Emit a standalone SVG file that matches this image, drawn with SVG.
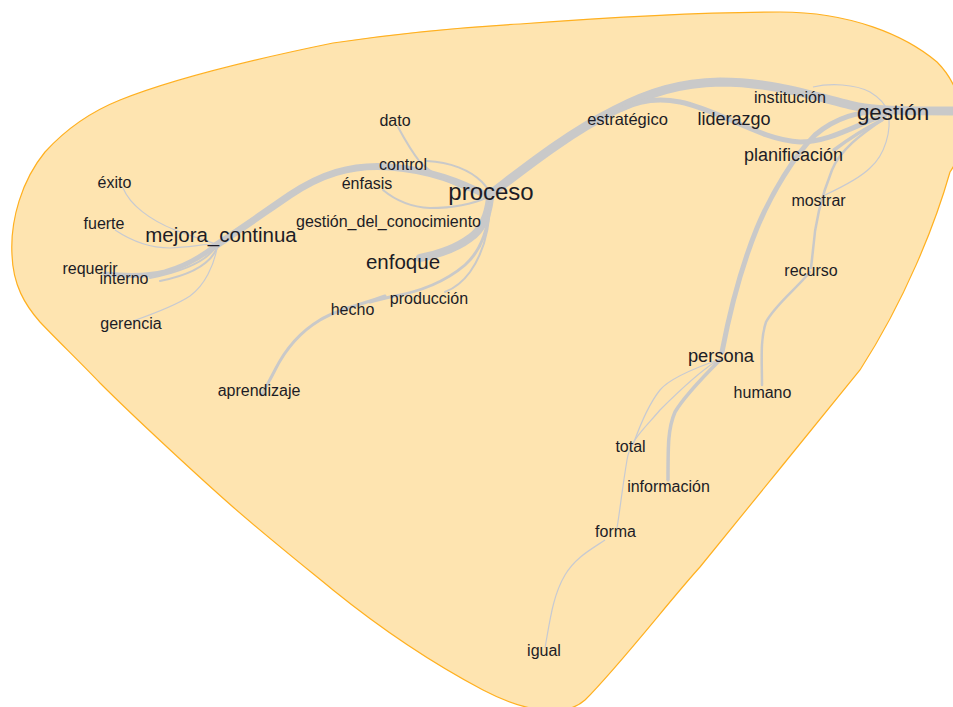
<svg xmlns="http://www.w3.org/2000/svg" width="953" height="707" viewBox="0 0 953 707">
  <style>
    .hull { fill: #fee4b0; stroke: #ffb020; stroke-width: 1.2; }
    .e { fill: none; stroke: #c9c9c9; stroke-linecap: round; stroke-linejoin: round; }
    .t { fill: none; stroke: #c7cad2; stroke-width: 1.2; }
    text { font-family: "Liberation Sans", Arial, sans-serif; fill: #1c1c26; text-anchor: middle; }
    .s { font-size: 16px; }
  </style>
  <rect width="953" height="707" fill="#ffffff"/>

  <!-- community hull -->
  <path class="hull" d="M 12,255
    C 10,220 22,180 45,152
    C 65,130 90,112 120,100
    C 170,80 250,60 333,43
    C 400,33 450,28 520,24
    C 600,18 700,12 780,12
    C 850,12 905,35 937,62
    C 965,90 972,140 950,172
    C 935,225 905,300 860,370
    C 810,432 750,505 700,567
    C 670,600 620,665 585,700
    C 565,718 525,712 483,690
    C 430,662 380,628 333,590
    C 300,563 265,535 233,507
    C 200,478 135,418 100,383
    C 80,362 55,338 40,322
    C 25,305 13,285 12,255 Z"/>

  <!-- connectors -->
  <g id="edges">
    <!-- proceso - gestión and beyond -->
    <path class="e" stroke-width="9" d="M 488,196 C 520,172 565,135 615,110 C 650,92 680,83 720,82 C 770,82 810,95 850,105 C 870,110 890,111 960,111"/>
    <!-- via liderazgo -->
    <path class="e" stroke-width="5" d="M 622,109 C 640,100 660,98 680,102 C 720,110 760,140 800,142 C 830,142 855,125 885,115"/>
    <!-- gestión - persona -->
    <path class="e" stroke-width="5" d="M 885,112 C 860,110 835,118 815,135 C 795,155 772,192 757,228 C 742,265 730,310 722,352"/>
    <!-- gestión - planificación -->
    <path class="e" stroke-width="3.5" d="M 882,120 C 866,128 850,138 834,150"/>
    <!-- gestión - mostrar - recurso -->
    <path class="e" stroke-width="2.5" d="M 885,118 C 860,135 840,150 832,170 C 822,195 815,220 813,250 L 811,268"/>
    <!-- recurso - humano -->
    <path class="e" stroke-width="2.5" d="M 810,272 C 795,290 775,305 766,322 C 760,340 762,360 762,385"/>
    <!-- gestión - mostrar (thin) -->
    <path class="t" d="M 888,112 C 892,130 885,155 870,168 C 860,178 840,188 825,195"/>
    <!-- gestión - institución (thin) -->
    <path class="t" d="M 813,87 C 830,83 855,84 870,92 C 880,98 886,106 888,112"/>
    <!-- persona - información -->
    <path class="e" stroke-width="3.5" d="M 720,360 C 705,375 685,395 675,412 C 668,428 668,445 668,480"/>
    <!-- persona - total -->
    <path class="t" d="M 718,360 C 695,368 670,378 660,390 C 648,405 640,425 633,445"/>
    <!-- persona - forma -->
    <path class="t" d="M 715,362 C 695,375 675,395 660,410 C 645,428 630,440 627,460 C 622,490 620,510 617,528"/>
    <!-- forma - igual -->
    <path class="t" d="M 605,540 C 590,550 575,558 565,575 C 553,595 550,620 545,648"/>

    <!-- proceso - mejora_continua -->
    <path class="e" stroke-width="7" d="M 488,196 C 460,182 430,170 390,167 C 350,164 320,175 290,195 C 265,212 240,230 215,246"/>
    <!-- mejora_continua - requerir / interno -->
    <path class="e" stroke-width="5" d="M 215,246 C 200,258 185,266 165,272 C 145,277 125,276 105,274"/>
    <path class="e" stroke-width="2" d="M 215,248 C 205,262 180,272 150,278"/>
    <path class="e" stroke-width="2" d="M 217,248 C 210,265 190,275 160,281"/>
    <!-- mejora_continua - éxito / fuerte / gerencia -->
    <path class="t" d="M 123,188 C 130,205 150,220 175,230 C 190,236 205,240 215,244"/>
    <path class="t" d="M 115,230 C 130,240 150,248 170,248 C 190,247 205,244 215,244"/>
    <path class="t" d="M 217,248 C 214,265 205,285 190,296 C 175,306 150,315 133,321"/>

    <!-- proceso - dato / control / énfasis -->
    <path class="e" stroke-width="2" d="M 398,127 C 405,140 412,152 420,162 C 435,178 460,188 488,196"/>
    <path class="e" stroke-width="2" d="M 427,161 C 450,162 470,170 482,182 C 488,188 490,193 490,197"/>
    <path class="e" stroke-width="2" d="M 383,190 C 395,200 410,207 430,208 C 455,208 475,203 488,197"/>
    <!-- proceso - enfoque -->
    <path class="e" stroke-width="8" d="M 490,198 C 488,215 482,230 470,238 C 458,247 440,254 420,258"/>
    <!-- proceso - hecho - aprendizaje -->
    <path class="e" stroke-width="3" d="M 490,198 C 490,225 482,250 465,265 C 445,282 420,292 390,297 C 380,299 375,301 370,302"/>
    <path class="e" stroke-width="3" d="M 385,296 C 360,305 335,310 320,320 C 300,332 285,350 275,370 C 270,380 265,388 262,395"/>
    <!-- proceso - producción -->
    <path class="e" stroke-width="2" d="M 490,200 C 490,230 482,255 470,272 C 462,283 455,288 445,292"/>
  </g>

  <!-- nodes -->
  <g id="n-gestion"><text x="893" y="120" font-size="22.4">gestión</text></g>
  <g id="n-proceso"><text x="491" y="200" font-size="24">proceso</text></g>
  <g id="n-mejora_continua"><text x="221" y="242" font-size="20.5">mejora_continua</text></g>
  <g id="n-enfoque"><text x="403" y="269" font-size="20.5">enfoque</text></g>
  <g id="n-persona"><text x="721" y="362" font-size="18.3">persona</text></g>
  <g id="n-planificacion"><text x="793.5" y="161" font-size="18">planificación</text></g>
  <g id="n-liderazgo"><text x="734" y="125" font-size="18">liderazgo</text></g>
  <g id="n-institucion"><text x="790" y="103" font-size="16.2">institución</text></g>
  <g id="n-estrategico"><text x="627.5" y="125" font-size="16.5">estratégico</text></g>
  <g id="n-dato"><text class="s" x="395" y="126">dato</text></g>
  <g id="n-control"><text class="s" x="403" y="170">control</text></g>
  <g id="n-enfasis"><text class="s" x="367" y="189">énfasis</text></g>
  <g id="n-gestion_del_conocimiento"><text class="s" x="388.5" y="227">gestión_del_conocimiento</text></g>
  <g id="n-exito"><text class="s" x="114.5" y="188">éxito</text></g>
  <g id="n-fuerte"><text class="s" x="104" y="229">fuerte</text></g>
  <g id="n-requerir"><text class="s" x="90" y="274">requerir</text></g>
  <g id="n-interno"><text class="s" x="124" y="284">interno</text></g>
  <g id="n-gerencia"><text class="s" x="131" y="329">gerencia</text></g>
  <g id="n-hecho"><text class="s" x="352.5" y="315">hecho</text></g>
  <g id="n-produccion"><text class="s" x="429" y="304">producción</text></g>
  <g id="n-aprendizaje"><text class="s" x="259" y="396">aprendizaje</text></g>
  <g id="n-mostrar"><text class="s" x="818.5" y="206">mostrar</text></g>
  <g id="n-recurso"><text class="s" x="811" y="276">recurso</text></g>
  <g id="n-humano"><text class="s" x="762.5" y="398">humano</text></g>
  <g id="n-total"><text class="s" x="630.5" y="452">total</text></g>
  <g id="n-informacion"><text class="s" x="668.5" y="492">información</text></g>
  <g id="n-forma"><text class="s" x="615.5" y="537">forma</text></g>
  <g id="n-igual"><text class="s" x="544" y="656">igual</text></g>
</svg>
